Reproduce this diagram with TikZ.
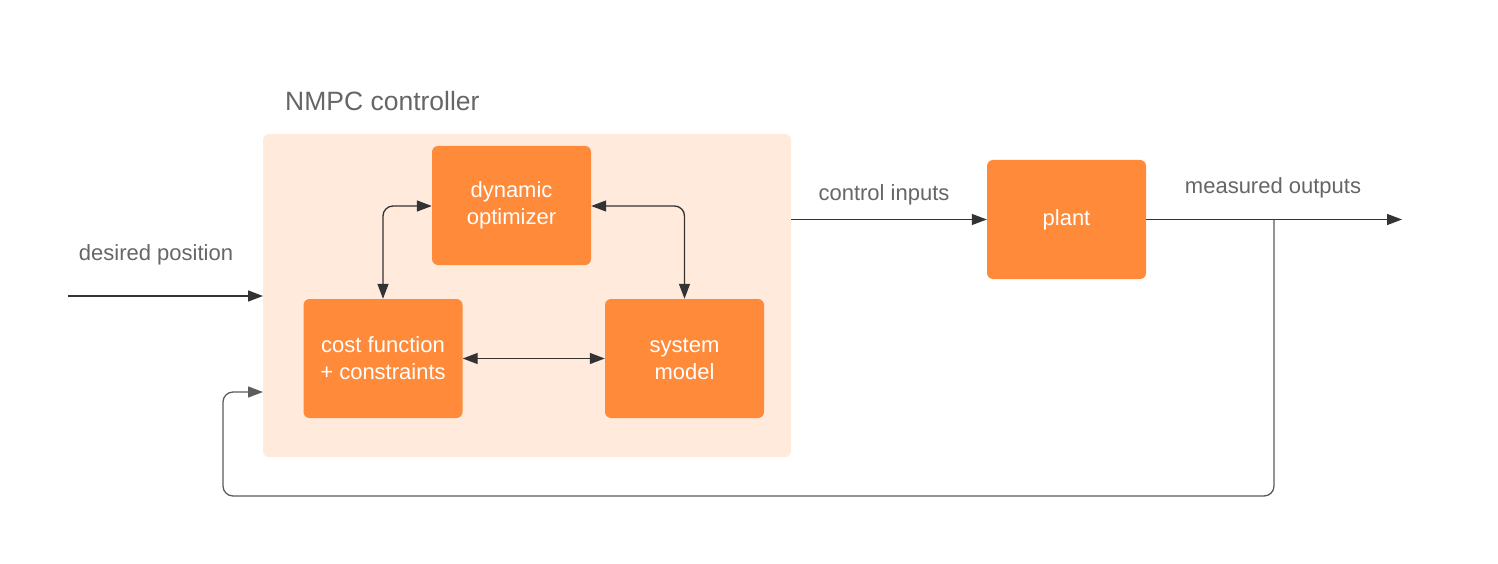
\documentclass[tikz,border=0pt]{standalone}
\usepackage{fontspec}
\setmainfont{Liberation Sans}
\usetikzlibrary{arrows.meta}
\definecolor{orng}{HTML}{FF8A3A}
\definecolor{peach}{HTML}{FFEADC}
\definecolor{txt}{HTML}{666666}
\definecolor{ln}{HTML}{333333}
\tikzset{
  blk/.style={fill=orng, rounded corners=6pt, minimum width=159pt, minimum height=119pt, inner sep=0pt, text=white, align=center, font=\fontsize{22}{27}\selectfont},
  lbl/.style={text=txt, font=\fontsize{22}{26}\selectfont, inner sep=0pt},
  conn/.style={draw=ln, line width=1.3pt, -{Triangle[length=15pt,width=11pt]}},
  biconn/.style={draw=ln, line width=1.3pt, {Triangle[length=15pt,width=11pt]}-{Triangle[length=15pt,width=11pt]}, rounded corners=10pt},
}
\begin{document}
\begin{tikzpicture}[x=1pt,y=-1pt]
\useasboundingbox (0,0) rectangle (1498,564);
\fill[white] (0,0) rectangle (1498,564);
\node[fill=peach, rounded corners=6pt, minimum width=528pt, minimum height=323pt, inner sep=0pt] (ctrl) at (527,295.5) {};
\node[lbl, anchor=west, font=\fontsize{26.5}{30}\selectfont] (title) at (285,101) {NMPC controller};
\node[blk] (opt) at (511.5,205.5) {dynamic\\optimizer};
\node[blk] (cost) at (383,358.5) {cost function\\+ constraints};
\node[blk] (sys) at (684.5,358.5) {system\\model};
\node[blk] (plant) at (1066.5,219.5) {plant};
\node[lbl] (ldes) at (156,255) {desired position};
\node[lbl] (lci) at (884,195) {control inputs};
\node[lbl] (lmo) at (1273,188) {measured outputs};
\coordinate (din) at (68,296);
\coordinate (dend) at (263,296);
\coordinate (fbend) at (263,392);
\coordinate (tap) at (1274,219.5);
\coordinate (out) at (1402,219.5);
\coordinate (ciin) at (791,219.5);
% desired position
\draw[conn] (din) -- (dend);
% control inputs
\draw[conn] (ciin) -- (plant.west);
% measured outputs
\draw[conn] (plant.east) -- (out);
% feedback
\draw[draw=ln!80, line width=1.3pt, rounded corners=10pt, -{Triangle[length=15pt,width=11pt]}] (tap) -- (1274,496) -- (223,496) -- (223,392) -- (fbend);
% inner connectors
\draw[biconn] (opt.west |- 0,206) -- (383,206) -- (cost.north);
\draw[biconn] (opt.east |- 0,206) -- (684.5,206) -- (sys.north);
\draw[biconn] (cost.east) -- (sys.west);
\end{tikzpicture}
\end{document}
